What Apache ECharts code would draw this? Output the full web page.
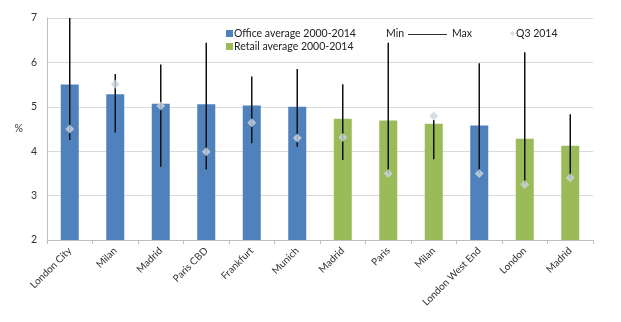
<!DOCTYPE html>
<html><head><meta charset="utf-8">
<script src="https://cdn.jsdelivr.net/npm/echarts@6/dist/echarts.min.js"></script>
<style>html,body{margin:0;padding:0;background:#fff}#c{width:621px;height:322px}</style>
</head><body><div id="c"></div>
<script>
const categories = ["London City","Milan","Madrid","Paris CBD","Frankfurt","Munich","Madrid","Paris","Milan","London West End","London","Madrid"];
const sectorType = ["office","office","office","office","office","office","retail","retail","retail","office","retail","retail"];
const averageValues = [5.5, 5.28, 5.07, 5.06, 5.03, 5.0, 4.73, 4.69, 4.62, 4.58, 4.28, 4.12];
const minValues = [4.25, 4.42, 3.65, 3.59, 4.18, 4.1, 3.8, 3.5, 3.82, 3.5, 3.27, 3.4];
const maxValues = [7.0, 5.74, 5.95, 6.44, 5.68, 5.85, 5.51, 6.44, 4.7, 5.98, 6.23, 4.83];
const q3Values = [4.5, 5.51, 5.02, 3.99, 4.64, 4.3, 4.31, 3.5, 4.79, 3.5, 3.25, 3.4];
const yTicks = [2, 3, 4, 5, 6, 7];

const BLUE = "#4F81BD", GREEN = "#9BBB59", DIAMOND = "#CCD4E0";
const officeData = averageValues.map((v, i) => sectorType[i] === "office" ? v : null);
const retailData = averageValues.map((v, i) => sectorType[i] === "retail" ? v : null);
const rangeData = categories.map((c, i) => [i, minValues[i], maxValues[i]]);
const font = "Lato, 'Liberation Sans', sans-serif";

const chart = echarts.init(document.getElementById('c'), null, {renderer: 'canvas'});
chart.setOption({
  animation: false,
  textStyle: {fontFamily: font},
  grid: {left: 47, right: 28, top: 18, bottom: 82},
  legend: [
    {data: ["Office average 2000-2014", "Retail average 2000-2014"], orient: 'vertical', left: 226, top: 28, padding: 0,
     itemWidth: 7, itemHeight: 7, itemGap: 2, icon: 'rect',
     textStyle: {fontSize: 10.5, color: '#222', fontFamily: font, padding: [0,0,0,-4]}},
    {data: [{name: "Q3 2014", icon: 'diamond'}], left: 510, top: 28, padding: 0, itemWidth: 5, itemHeight: 5,
     textStyle: {fontSize: 10.5, color: '#222', fontFamily: font, padding: [0,0,0,-4]}}
  ],
  graphic: [
    {type: 'text', left: 386, top: 28, style: {text: 'Min', fontSize: 10.5, fill: '#222', fontFamily: font}},
    {type: 'line', shape: {x1: 408, y1: 34.5, x2: 447, y2: 34.5}, style: {stroke: '#333', lineWidth: 1}},
    {type: 'text', left: 452, top: 28, style: {text: 'Max', fontSize: 10.5, fill: '#222', fontFamily: font}}
  ],
  xAxis: {
    type: 'category', data: categories,
    axisLine: {lineStyle: {color: '#BFBFBF'}},
    axisTick: {show: true, alignWithLabel: false, length: 4, lineStyle: {color: '#BFBFBF'}},
    axisLabel: {rotate: 45, fontSize: 10, color: '#333', interval: 0, margin: 9, fontFamily: font}
  },
  yAxis: {
    type: 'value', min: yTicks[0], max: yTicks[yTicks.length - 1], interval: 1,
    name: '%', nameLocation: 'middle', nameRotate: 0, nameGap: 24,
    nameTextStyle: {fontSize: 10.5, color: '#333', fontFamily: font},
    axisLine: {show: true, lineStyle: {color: '#BFBFBF'}},
    axisTick: {show: false},
    splitLine: {lineStyle: {color: '#D9D9D9'}},
    axisLabel: {fontSize: 10.5, color: '#333', margin: 10, fontFamily: font}
  },
  series: [
    {name: "Office average 2000-2014", type: 'bar', data: officeData, barWidth: 18, barGap: '-100%',
     itemStyle: {color: BLUE}},
    {name: "Retail average 2000-2014", type: 'bar', data: retailData, barWidth: 18, barGap: '-100%',
     itemStyle: {color: GREEN}},
    {name: "Min-Max", type: 'custom', data: rangeData, z: 5,
     encode: {x: 0, y: [1, 2]},
     renderItem: function (params, api) {
       const a = api.coord([api.value(0), api.value(1)]);
       const b = api.coord([api.value(0), api.value(2)]);
       return {type: 'line', shape: {x1: a[0], y1: a[1], x2: b[0], y2: b[1]},
               style: {stroke: '#111', lineWidth: 1.5}};
     }},
    {name: "Q3 2014", type: 'scatter', data: q3Values, symbol: 'diamond', symbolSize: 9, z: 6,
     itemStyle: {color: DIAMOND}}
  ]
});
</script></body></html>
